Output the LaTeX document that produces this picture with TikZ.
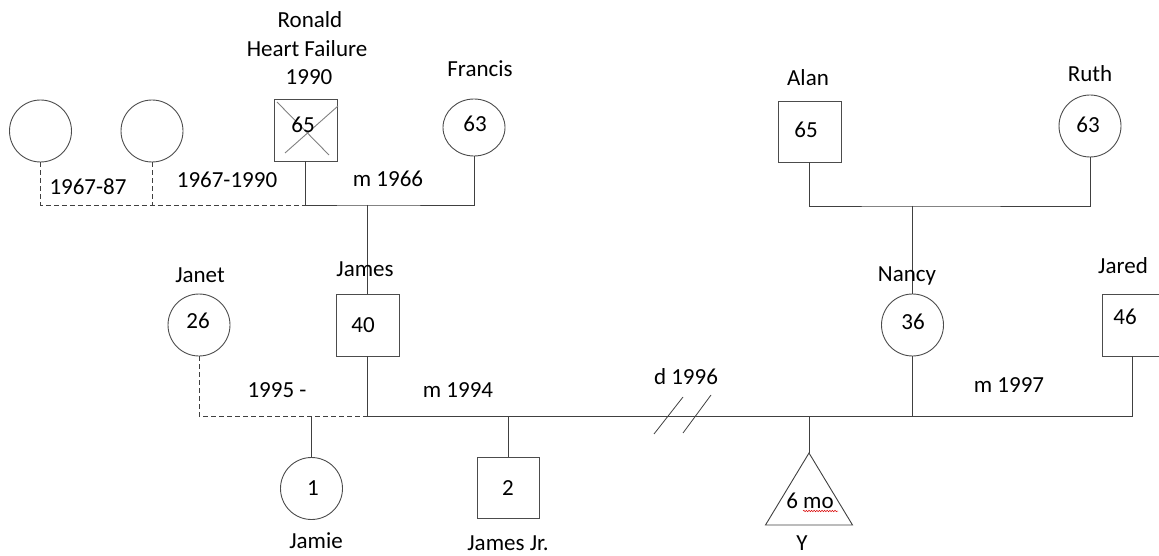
\documentclass[tikz,border=0pt]{standalone}
\usepackage{fontspec}
\setmainfont{Carlito}
\usetikzlibrary{shapes.geometric,decorations.pathmorphing}
\begin{document}
\begin{tikzpicture}[x=1pt,y=-1pt,
  person/.style={draw=black!70,line width=0.9pt,inner sep=0pt},
  male/.style={person,rectangle,minimum width=63pt,minimum height=62pt},
  female/.style={person,circle,minimum size=62pt},
  tag/.style={anchor=base,inner sep=0pt,font=\fontsize{23}{28}\selectfont},
  link/.style={draw=black!75,line width=0.9pt},
  partner/.style={link,dash pattern=on 5pt off 3pt},
  deceased/.style={draw=black!50,line width=0.9pt},
  divorce/.style={draw=black!75,line width=0.8pt},
  spell/.style={draw=red!85!black,line width=0.5pt,decorate,
    decoration={snake,amplitude=0.7pt,segment length=2.6pt}}]
\useasboundingbox (0,0) rectangle (1159,556);

% grandparents, father's side
\node[female] (anc1) at (40.5,131) {};
\node[female] (anc2) at (152,131) {};
\node[male] (ronald) at (305.5,130) {};
\node[person,ellipse,minimum width=62pt,minimum height=57pt] (francis) at (474,127.5) {};
\draw[deceased] ([shift={(-28.5,-28)}]ronald.center) -- ([shift={(23.5,25)}]ronald.center);
\draw[deceased] ([shift={(32.5,-24)}]ronald.center) -- ([shift={(-20.5,23)}]ronald.center);

% grandparents, mother's side
\node[male,minimum height=61pt] (alan) at (809.5,131.5) {};
\node[female] (ruth) at (1090,126) {};

% parents and partners
\node[female] (janet) at (199,325) {};
\node[male] (james) at (367.5,325) {};
\node[female] (nancy) at (912.5,325) {};
\node[male,minimum width=61pt] (jared) at (1132.5,325) {};

% children
\node[female] (jamie) at (311.5,488.5) {};
\node[male,minimum width=62pt,minimum height=61pt] (jr) at (508,487.5) {};
\coordinate (yapex) at (809,453);
\draw[link] (yapex) -- ++(-43.5,72) -- ++(87,0) -- cycle;

% relationship lines
\coordinate (mtop) at (367.5,205);
\draw[partner] (anc1.south) |- (ronald.south |- mtop);
\draw[partner] (anc2.south) -- (anc2.south |- mtop);
\draw[link] (ronald.south) |- (mtop) -| (francis.south);
\draw[link] (mtop) -- (james.north);

\coordinate (mtop2) at (912.5,206);
\draw[link] (alan.south) |- (mtop2) -| (ruth.south);
\draw[link] (mtop2) -- (nancy.north);

\coordinate (mlow) at (367.5,416);
\draw[partner] (janet.south) |- (mlow);
\draw[link] (james.south) -- (mlow) -| (jared.south);
\draw[link] (nancy.south) -- (nancy.south |- mlow);
\draw[link] (jamie.north |- mlow) -- (jamie.north);
\draw[link] (jr.north |- mlow) -- (jr.north);
\draw[link] (yapex |- mlow) -- (yapex);

% divorce marks
\draw[divorce] (654,434) -- (683,397);
\draw[divorce] (683,433) -- (711,395);

% names and notes
\node[tag] (tRonald) at (310,28) {Ronald};
\node[tag] (tHeart) at (307,57) {Heart Failure};
\node[tag] (tDied) at (309,85) {1990};
\node[tag] (tFrancis) at (480,77) {Francis};
\node[tag] (tAlan) at (808,86) {Alan};
\node[tag] (tRuth) at (1090,82) {Ruth};
\node[tag] (tJanet) at (200,282) {Janet};
\node[tag] (tJames) at (365,276) {James};
\node[tag] (tNancy) at (907,281) {Nancy};
\node[tag] (tJared) at (1123,273) {Jared};
\node[tag] (tJamie) at (316,548) {Jamie};
\node[tag] (tJr) at (508,550) {James Jr.};
\node[tag] (tY) at (802,550) {Y};

% ages
\node[tag] (aRonald) at (303,133) {65};
\node[tag] (aFrancis) at (475,132) {63};
\node[tag] (aAlan) at (806,138) {65};
\node[tag] (aRuth) at (1088,133) {63};
\node[tag] (aJanet) at (198,328) {26};
\node[tag] (aJames) at (363,332) {40};
\node[tag] (aNancy) at (913,329) {36};
\node[tag] (aJared) at (1125,324) {46};
\node[tag] (aJamie) at (313,495) {1};
\node[tag] (aJr) at (508,495) {2};
\node[tag] (aY) at (810,508) {6 mo};
\draw[spell] (803,511) -- (838,511);

% relationship dates
\node[tag] (r1) at (88,195) {1967-87};
\node[tag] (r2) at (227,188) {1967-1990};
\node[tag] (r3) at (388,187) {m 1966};
\node[tag] (r4) at (277,397) {1995 -};
\node[tag] (r5) at (458,397) {m 1994};
\node[tag] (r6) at (686,384) {d 1996};
\node[tag] (r7) at (1009,392) {m 1997};
\end{tikzpicture}
\end{document}
